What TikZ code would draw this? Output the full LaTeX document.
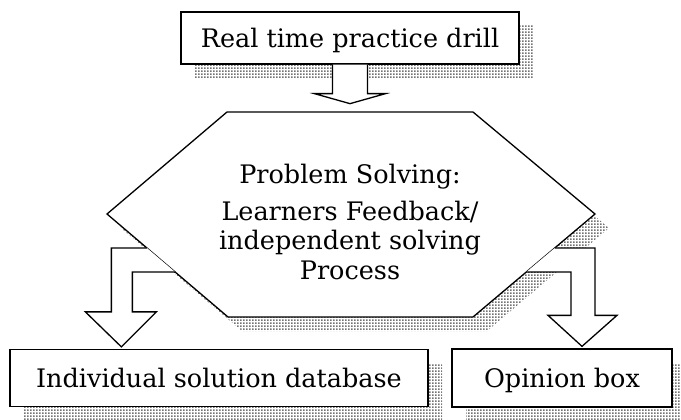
\documentclass[tikz,border=0pt]{standalone}
\usepackage{fontspec}
\setmainfont{DejaVu Serif}
\usetikzlibrary{calc,patterns,shadows}

\pgfdeclarepatternformonly{shadowdots}{\pgfpointorigin}{\pgfqpoint{3pt}{3pt}}{\pgfqpoint{3pt}{3pt}}{%
  \pgfpathrectangle{\pgfpointorigin}{\pgfqpoint{2pt}{2pt}}\pgfusepath{fill}}

\begin{document}
\begin{tikzpicture}[x=1pt,y=-1pt,
  dotshadow/.style={drop shadow={shadow xshift=14pt,shadow yshift=-14pt,pattern=shadowdots,pattern color=black!55,opacity=1}},
  box/.style={draw,line width=1.3pt,fill=white,dotshadow,inner sep=0pt,text height=25pt,text depth=6pt},
  blockarrow/.style={draw,line width=1.3pt,fill=white,line join=miter},
  every node/.style={font=\fontsize{25.5}{29.5}\selectfont}]
  \useasboundingbox (0,0) rectangle (681,420);
  % boxes
  \node[box,minimum width=338,minimum height=52] (drill) at (350,38) {Real time practice drill};
  \node[box,minimum width=418,minimum height=57] (inds) at (219,378) {Individual solution database};
  \node[box,minimum width=220,minimum height=58] (opin) at (562,378) {Opinion box};
  % hexagon
  \coordinate (hl) at (107,214);
  \coordinate (htl) at (227,112);
  \coordinate (htr) at (473,112);
  \coordinate (hr) at (595,214);
  \coordinate (hbr) at (473,317);
  \coordinate (hbl) at (228,317);
  \draw[line width=1.3pt,fill=white,dotshadow] (hl) -- (htl) -- (htr) -- (hr) -- (hbr) -- (hbl) -- cycle;
  \node[align=center] (prob) at (350,222) {Problem Solving:\\[7pt] Learners Feedback/\\independent solving\\Process};
  % arrows
  \draw[blockarrow] ($(drill.south)+(-17.5,0)$) -- ++(0,29) -- ++(-18,0) -- ($(drill.south)+(0,39)$) -- ++(35.5,-10) -- ++(-18,0) -- ($(drill.south)+(17.5,0)$);
  \coordinate (ltip) at ($(inds.north west)+(112,-2)$);
  \draw[blockarrow] ($(hl)!.33!(hbl)$) -| ($(ltip)+(-10,-35)$) -- ++(-26,0) -- (ltip) -- ++(35,-35) -- ++(-24,0) |- ($(hl)!.563!(hbl)$);
  \coordinate (rtip) at ($(opin.north)+(20,-2)$);
  \draw[blockarrow] ($(hr)!.33!(hbr)$) -| ($(rtip)+(13,-31)$) -- ++(22,0) -- (rtip) -- ++(-34,-31) -- ++(23,0) |- ($(hr)!.563!(hbr)$);
\end{tikzpicture}
\end{document}
